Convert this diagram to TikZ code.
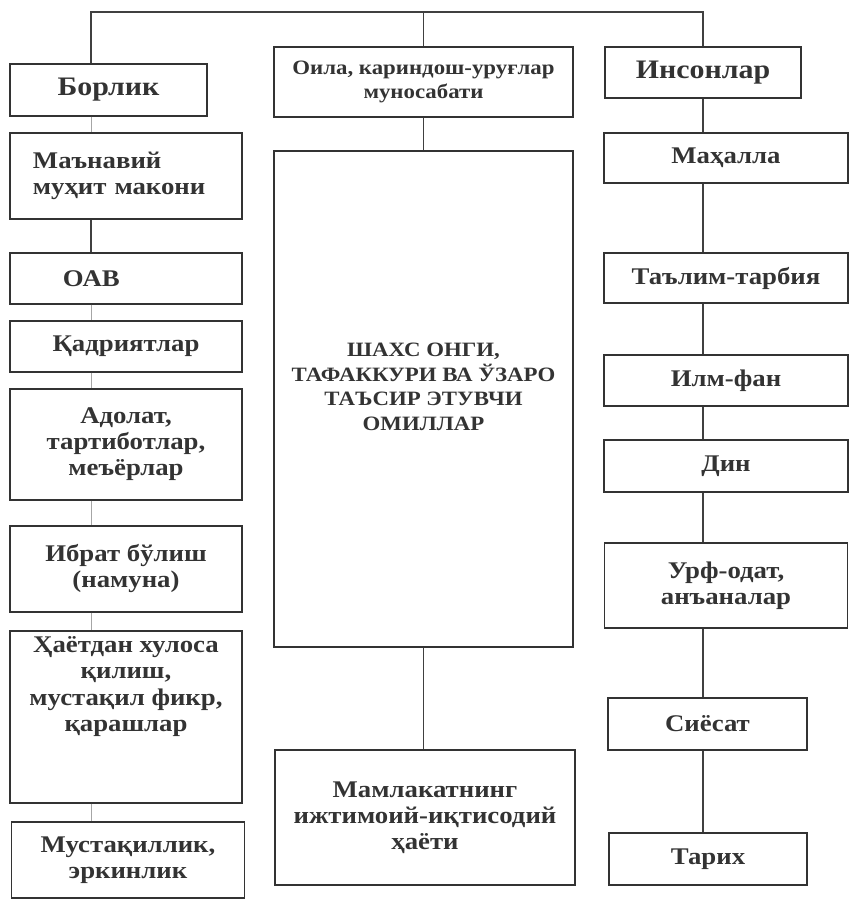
\documentclass[tikz,border=0pt]{standalone}
\usepackage{fontspec}
\setmainfont[FakeStretch=1.12]{Liberation Serif}
\usetikzlibrary{calc}

\begin{document}
\begin{tikzpicture}[x=0.025cm,y=-0.025cm,
    box/.style={draw=black!80,line width=1pt,align=center,inner sep=2pt,
      text=black!80,font=\bfseries\fontsize{17}{18.5}\selectfont},
    midbox/.style={box,font=\bfseries\fontsize{14.5}{17.5}\selectfont},
    headbox/.style={box,font=\bfseries\fontsize{19}{20}\selectfont},
    lefttext/.style={align=left,text width=#1},
    link/.style={draw=black!75,line width=0.9pt},
    faint/.style={draw=black!35,line width=0.7pt}]
  \useasboundingbox (0,0) rectangle (851,900);

  % top row
  \node[headbox,minimum width=4.925cm,minimum height=1.3cm] (bor) at (108.5,90) {Борлик};
  \node[midbox,minimum width=7.475cm,minimum height=1.75cm] (oila) at (423.5,82)
    {Оила, кариндош-уруғлар\\муносабати};
  \node[headbox,minimum width=4.9cm,minimum height=1.275cm] (ins) at (703,72.5) {Инсонлар};

  % left column
  \node[box,lefttext=4.65cm,minimum width=5.8cm,minimum height=2.15cm] (man) at (126,176)
    {Маънавий\\муҳит макони};
  \node[box,lefttext=3.15cm,minimum width=5.8cm,minimum height=1.275cm] (oav) at (126,278.5) {ОАВ};
  \node[box,minimum width=5.8cm,minimum height=1.275cm] (qad) at (126,346.5) {Қадриятлар};
  \node[box,minimum width=5.8cm,minimum height=2.775cm] (ado) at (126,444.5)
    {Адолат,\\тартиботлар,\\меъёрлар};
  \node[box,minimum width=5.8cm,minimum height=2.15cm] (ibr) at (126,569)
    {Ибрат бўлиш\\(намуна)};
  \node[box,minimum width=5.8cm,minimum height=4.3cm] (hay) at (126,717)
    {Ҳаётдан хулоса\\қилиш,\\мустақил фикр,\\қарашлар\\[1cm]~};
  \node[box,minimum width=5.825cm,minimum height=1.9cm] (mus) at (128,860)
    {Мустақиллик,\\эркинлик};

  % middle column
  \node[midbox,minimum width=7.475cm,minimum height=12.4cm] (big) at (423.5,399)
    {ШАХС ОНГИ,\\ТАФАККУРИ ВА ЎЗАРО\\ТАЪСИР ЭТУВЧИ\\ОМИЛЛАР\\~};
  \node[box,minimum width=7.5cm,minimum height=3.375cm] (mam) at (425,817.5)
    {Мамлакатнинг\\ижтимоий-иқтисодий\\ҳаёти};

  % right column
  \node[box,minimum width=6.1cm,minimum height=1.25cm] (mah) at (726,158) {Маҳалла};
  \node[box,minimum width=6.1cm,minimum height=1.25cm] (tal) at (726,278) {Таълим-тарбия};
  \node[box,minimum width=6.1cm,minimum height=1.275cm] (ilm) at (726,380.5) {Илм-фан};
  \node[box,minimum width=6.1cm,minimum height=1.3cm] (din) at (726,466) {Дин};
  \node[box,minimum width=6.075cm,minimum height=2.125cm] (urf) at (726,585.5)
    {Урф-одат,\\анъаналар};
  \node[box,minimum width=4.975cm,minimum height=1.3cm] (siy) at (707.5,724) {Сиёсат};
  \node[box,minimum width=4.95cm,minimum height=1.3cm] (tar) at (708,859) {Тарих};

  % connectors
  \coordinate (lx) at (91,12);
  \draw[link] (bor.north -| lx) -- (lx) -| (ins.north);
  \draw[link] (oila.north) -- (oila.north |- lx);
  \draw[link] (oila.south) -- (big.north);
  \draw[link] (big.south) -- (mam.north -| big.south);

  \draw[faint] (bor.south -| lx) -- (man.north -| lx);
  \draw[link] (man.south -| lx) -- (oav.north -| lx);
  \foreach \a/\b in {oav/qad,qad/ado,ado/ibr,ibr/hay,hay/mus}
    \draw[faint] (\a.south -| lx) -- (\b.north -| lx);

  \foreach \a/\b in {ins/mah,mah/tal,tal/ilm,ilm/din,din/urf,urf/siy,siy/tar}
    \draw[link] (\a.south -| ins.south) -- (\b.north -| ins.south);
\end{tikzpicture}
\end{document}
